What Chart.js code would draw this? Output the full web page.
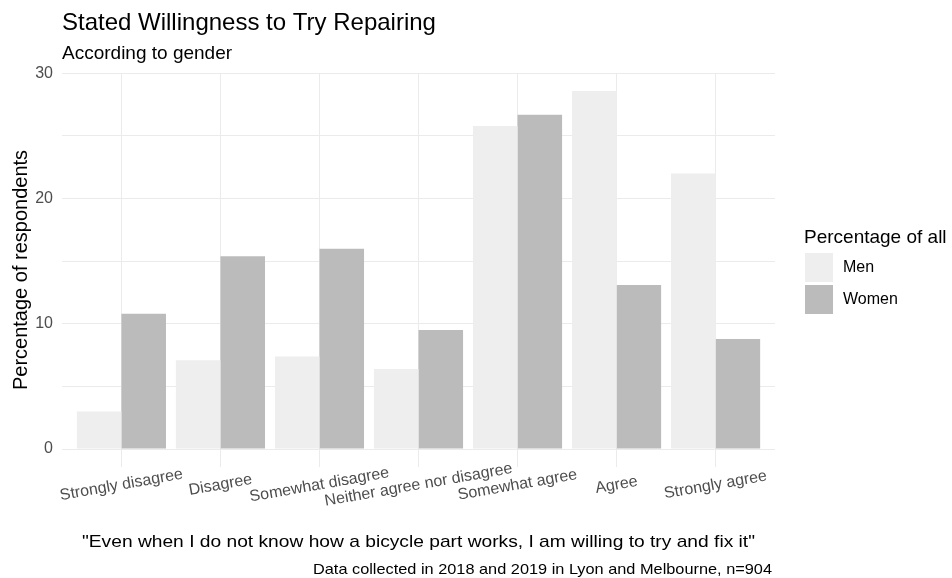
<!DOCTYPE html>
<html>
<head>
<meta charset="utf-8">
<script src="https://cdn.jsdelivr.net/npm/chart.js@4/dist/chart.umd.min.js"></script>
<style>
  html, body { margin: 0; padding: 0; background: #ffffff; }
  #wrap { width: 952px; height: 578px; }
</style>
</head>
<body>
<div id="wrap"><canvas id="c" width="952" height="578"></canvas></div>
<script>
// ---- data ----
const categories = ["Strongly disagree", "Disagree", "Somewhat disagree", "Neither agree nor disagree", "Somewhat agree", "Agree", "Strongly agree"];
const seriesNames = ["Men", "Women"];
const menValues = [3.0, 7.1, 7.4, 6.4, 25.8, 28.6, 22.0];
const womenValues = [10.8, 15.4, 16.0, 9.5, 26.7, 13.1, 8.8];
const yTickValues = [0, 5, 10, 15, 20, 25, 30];
const yLabelValues = [0, 10, 20, 30];

const titleText = "Stated Willingness to Try Repairing";
const subtitleText = "According to gender";
const yTitleText = "Percentage of respondents";
const xTitleText = "\"Even when I do not know how a bicycle part works, I am willing to try and fix it\"";
const captionText = "Data collected in 2018 and 2019 in Lyon and Melbourne, n=904";
const legendTitleText = "Percentage of all";

const seriesColors = ["#EEEEEE", "#BBBBBB"];
const FONT = "'Liberation Sans', Arial, Helvetica, sans-serif";

function fitText(ctx, text, x, y, targetW, align) {
  const w = ctx.measureText(text).width;
  const sx = targetW / w;
  ctx.save();
  ctx.translate(x, y);
  ctx.scale(sx, 1);
  ctx.textAlign = align;
  ctx.fillText(text, 0, 0);
  ctx.restore();
}

const decorPlugin = {
  id: 'decor',
  afterDraw(chart) {
    const ctx = chart.ctx;
    const xs = chart.scales.x;
    const area = chart.chartArea;
    ctx.save();
    ctx.textBaseline = 'alphabetic';
    // title & subtitle
    ctx.fillStyle = '#000000';
    ctx.textAlign = 'left';
    ctx.font = '24px ' + FONT;
    ctx.fillText(titleText, area.left, 30);
    ctx.font = '19px ' + FONT;
    ctx.fillText(subtitleText, area.left, 58.5);

    // y title
    ctx.save();
    ctx.font = '20px ' + FONT;
    ctx.translate(26.5, (area.top + area.bottom) / 2);
    ctx.rotate(-Math.PI / 2);
    ctx.textAlign = 'center';
    ctx.fillText(yTitleText, 0, 0);
    ctx.restore();

    // x tick labels (rotated 10 deg, centered)
    ctx.fillStyle = '#4D4D4D';
    ctx.font = '16px ' + FONT;
    categories.forEach((c, i) => {
      const px = xs.getPixelForValue(i);
      ctx.save();
      ctx.translate(px, 485);
      ctx.rotate(-10 * Math.PI / 180);
      ctx.textAlign = 'center';
      ctx.textBaseline = 'middle';
      ctx.fillText(c, 0, 0);
      ctx.restore();
    });

    // x title & caption
    ctx.fillStyle = '#000000';
    ctx.font = '17px ' + FONT;
    fitText(ctx, xTitleText, (area.left + area.right) / 2, 547, 673, 'center');
    ctx.font = '15px ' + FONT;
    fitText(ctx, captionText, 772, 574, 459, 'right');

    // legend
    ctx.textAlign = 'left';
    ctx.font = '19px ' + FONT;
    ctx.fillText(legendTitleText, 804, 243);
    ctx.font = '16px ' + FONT;
    ctx.textBaseline = 'middle';
    seriesNames.forEach((n, i) => {
      const y0 = 253 + i * 32;
      ctx.fillStyle = seriesColors[i];
      ctx.fillRect(805, y0, 28, 29);
      ctx.fillStyle = '#000000';
      ctx.fillText(n, 843, y0 + 15);
    });
    ctx.restore();
  }
};

const datasets = [menValues, womenValues].map((vals, k) => ({
  label: seriesNames[k],
  data: categories.map((c, i) => ({ x: i, y: vals[i] })),
  backgroundColor: seriesColors[k],
  borderWidth: 0,
  categoryPercentage: 0.9,
  barPercentage: 1.0
}));

new Chart(document.getElementById('c'), {
  type: 'bar',
  data: { datasets },
  plugins: [decorPlugin],
  options: {
    responsive: false,
    animation: false,
    devicePixelRatio: 1,
    layout: { padding: { top: 73, right: 177, bottom: 0, left: 0 } },
    plugins: { legend: { display: false }, title: { display: false }, tooltip: { enabled: false } },
    scales: {
      x: {
        type: 'linear',
        min: -0.6,
        max: 6.6,
        offset: false,
        border: { display: false },
        grid: { offset: false, color: '#EBEBEB', lineWidth: 1, drawTicks: false },
        ticks: { display: false },
        afterBuildTicks: (s) => { s.ticks = categories.map((c, i) => ({ value: i })); },
        afterFit: (s) => { s.height = 111; }
      },
      y: {
        type: 'linear',
        min: -1.43,
        max: 30.03,
        border: { display: false },
        grid: { color: '#EBEBEB', lineWidth: 1, drawTicks: false },
        ticks: {
          color: '#4D4D4D',
          font: { size: 16, family: FONT },
          padding: 9,
          callback: (v) => (yLabelValues.includes(v) ? String(v) : '')
        },
        afterBuildTicks: (s) => { s.ticks = yTickValues.map(v => ({ value: v })); },
        afterFit: (s) => { s.width = 62; }
      }
    }
  }
});
</script>
</body>
</html>
